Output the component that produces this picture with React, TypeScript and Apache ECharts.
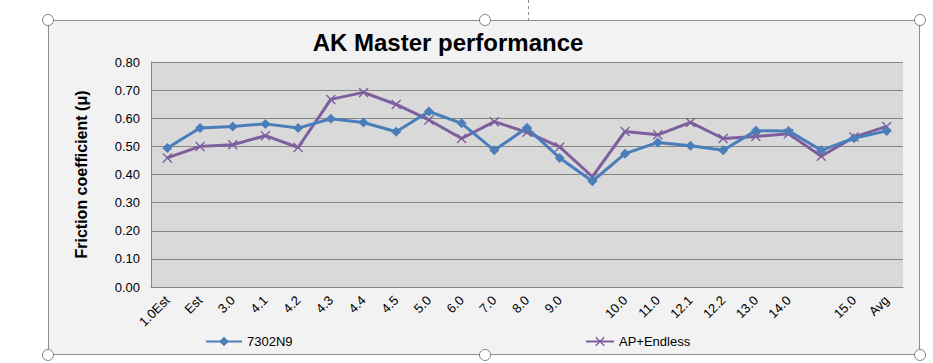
import React, { useEffect, useRef } from "react";
import * as echarts from "echarts";

const categories = ["1.0Est", "Est", "3.0", "4.1", "4.2", "4.3", "4.4", "4.5", "5.0", "6.0", "7.0", "8.0", "9.0", "", "10.0", "11.0", "12.1", "12.2", "13.0", "14.0", "", "15.0", "Avg"];
const series7302N9 = [0.494, 0.565, 0.571, 0.58, 0.565, 0.598, 0.585, 0.552, 0.624, 0.582, 0.486, 0.566, 0.459, 0.376, 0.474, 0.514, 0.502, 0.486, 0.556, 0.555, 0.486, 0.529, 0.555];
const seriesAPEndless = [0.459, 0.5, 0.506, 0.538, 0.496, 0.667, 0.692, 0.649, 0.594, 0.528, 0.588, 0.55, 0.498, 0.392, 0.553, 0.541, 0.585, 0.528, 0.535, 0.545, 0.465, 0.533, 0.571];
const yTicks = { min: 0, max: 0.8, interval: 0.1 };

const BLUE = "#4a7ebb";
const PURPLE = "#7d5f9e";
const FONT = "'Liberation Sans', Arial, sans-serif";
const CROSS = "path://M0,1 L1,0 L5,4 L9,0 L10,1 L6,5 L10,9 L9,10 L5,6 L1,10 L0,9 L4,5 Z";

export default function App() {
  const ref = useRef<HTMLDivElement>(null);
  useEffect(() => {
    document.body.style.margin = "0";
    if (!ref.current) return;
    const chart = echarts.init(ref.current, undefined, { renderer: "svg" });
    const handles = [
      [48, 20], [485, 20], [920, 20], [48, 355], [485, 355], [920, 355],
    ].map(([x, y]) => ({
      type: "circle",
      shape: { cx: x, cy: y, r: 5.5 },
      style: { fill: "#ffffff", stroke: "#7f7f7f", lineWidth: 1 },
      z: 100,
    }));
    chart.setOption({
      animation: false,
      backgroundColor: "#ffffff",
      graphic: [
        {
          type: "rect",
          shape: { x: 48.5, y: 20.5, width: 871, height: 334 },
          style: { fill: "#f2f2f2", stroke: "#8c8c8c", lineWidth: 1 },
          z: -10,
          silent: true,
        },
        {
          type: "line",
          shape: { x1: 528.5, y1: 0, x2: 528.5, y2: 20 },
          style: { stroke: "#8c8c8c", lineWidth: 1, lineDash: [3, 3] },
        },
        ...handles,
      ],
      title: {
        text: "AK Master performance",
        left: 443,
        textAlign: "center",
        top: 25,
        textStyle: { fontFamily: FONT, fontSize: 24, fontWeight: "bold", color: "#000" },
      },
      grid: { left: 151, right: 30, top: 62, bottom: 76, show: true, backgroundColor: "#d9d9d9", borderWidth: 0 },
      legend: [
        {
          data: ["7302N9"],
          left: 200,
          top: 330,
          itemWidth: 36,
          itemHeight: 12,
          itemGap: 4,
          textStyle: { fontFamily: FONT, fontSize: 13, color: "#000" },
        },
        {
          data: ["AP+Endless"],
          left: 580,
          top: 330,
          itemWidth: 28,
          itemHeight: 12,
          textStyle: { fontFamily: FONT, fontSize: 13, color: "#000" },
        },
      ],
      xAxis: {
        type: "category",
        data: categories,
        boundaryGap: true,
        axisLine: { lineStyle: { color: "#868686", width: 1 } },
        axisTick: { show: false },
        axisLabel: { interval: 0, rotate: 45, margin: 11, fontFamily: FONT, fontSize: 13, color: "#000" },
        splitLine: { show: false },
      },
      yAxis: {
        type: "value",
        min: yTicks.min,
        max: yTicks.max,
        interval: yTicks.interval,
        name: "Friction coefficient (μ)",
        nameLocation: "middle",
        nameGap: 62,
        nameTextStyle: { fontFamily: FONT, fontSize: 16, fontWeight: "bold", color: "#000" },
        axisLine: { show: true, lineStyle: { color: "#868686", width: 1 } },
        axisTick: { show: false },
        axisLabel: { formatter: (v: number) => v.toFixed(2), margin: 11, fontFamily: FONT, fontSize: 13, color: "#000" },
        splitLine: { lineStyle: { color: "#868686", width: 1 } },
      },
      series: [
        {
          name: "7302N9",
          type: "line",
          data: series7302N9,
          symbol: "diamond",
          symbolSize: 10,
          lineStyle: { color: BLUE, width: 3 },
          itemStyle: { color: BLUE },
          z: 3,
        },
        {
          name: "AP+Endless",
          type: "line",
          data: seriesAPEndless,
          symbol: CROSS,
          symbolSize: 10,
          lineStyle: { color: PURPLE, width: 3 },
          itemStyle: { color: PURPLE },
          z: 2,
        },
      ],
    });
    return () => chart.dispose();
  }, []);
  return <div ref={ref} style={{ width: 933, height: 363 }} />;
}
